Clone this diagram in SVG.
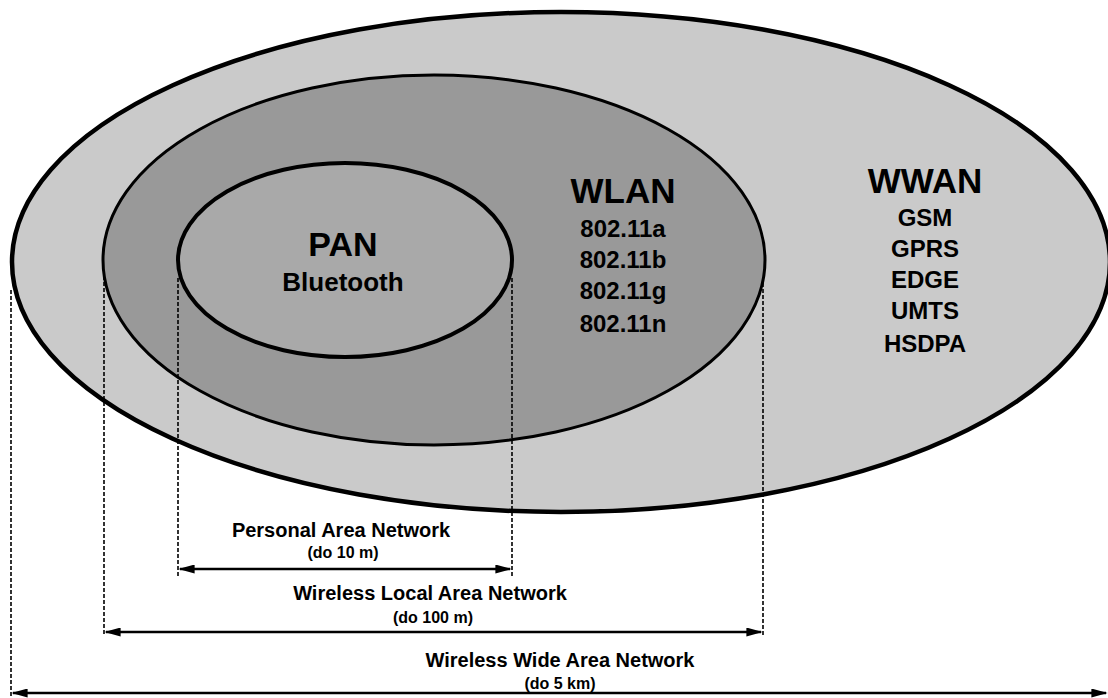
<svg xmlns="http://www.w3.org/2000/svg" width="1108" height="698" viewBox="0 0 1108 698">
<defs>
<style>
text{font-family:"Liberation Sans",Arial,sans-serif;font-weight:bold;fill:#000;text-anchor:middle}
.dash{stroke:#000;stroke-width:1.6;stroke-dasharray:4,2;fill:none}
.arr{stroke:#000;stroke-width:2.5;fill:none;marker-start:url(#ah);marker-end:url(#ah)}
.big{font-size:35px}
.mid{font-size:24px}
.lab{font-size:20px}
.sub{font-size:16px}
</style>
<marker id="ah" viewBox="0 0 10 10" refX="9" refY="5" markerWidth="6.5" markerHeight="3.6" orient="auto-start-reverse" markerUnits="strokeWidth" preserveAspectRatio="none">
<path d="M0,0 L10,5 L0,10 Z" fill="#000"/>
</marker>
</defs>
<rect width="1108" height="698" fill="#fff"/>
<g id="wwan">
<ellipse cx="561" cy="262" rx="549" ry="250" fill="#cacaca" stroke="#000" stroke-width="4.5"/>
<text class="big" x="925" y="193">WWAN</text>
<text class="mid" x="925" y="226">GSM</text>
<text class="mid" x="925" y="257">GPRS</text>
<text class="mid" x="925" y="288">EDGE</text>
<text class="mid" x="925" y="319">UMTS</text>
<text class="mid" x="925" y="352">HSDPA</text>
</g>
<g id="wlan">
<ellipse cx="434" cy="260" rx="331" ry="185" fill="#999999" stroke="#000" stroke-width="3"/>
<text class="big" x="623" y="203">WLAN</text>
<text class="mid" x="623" y="237">802.11a</text>
<text class="mid" x="623" y="268">802.11b</text>
<text class="mid" x="623" y="299">802.11g</text>
<text class="mid" x="623" y="332">802.11n</text>
</g>
<g id="pan">
<ellipse cx="345" cy="260" rx="167" ry="97" fill="#a9a9a9" stroke="#000" stroke-width="4"/>
<text style="font-size:34px" x="343" y="256">PAN</text>
<text style="font-size:26px" x="343" y="291">Bluetooth</text>
</g>
<g id="connectors">
<line class="dash" x1="11" y1="290" x2="11" y2="698"/>
<line class="dash" x1="104" y1="270" x2="104" y2="636"/>
<line class="dash" x1="178" y1="278" x2="178" y2="576"/>
<line class="dash" x1="512" y1="278" x2="512" y2="576"/>
<line class="dash" x1="763" y1="277" x2="763" y2="636"/>
<line class="arr" x1="180" y1="569" x2="510" y2="569"/>
<line class="arr" x1="106" y1="632" x2="761" y2="632"/>
<line class="arr" x1="13" y1="693" x2="1106" y2="693"/>
</g>
<g id="labels">
<text class="lab" x="341" y="537">Personal Area Network</text>
<text class="sub" x="343" y="558">(do 10 m)</text>
<text class="lab" x="430" y="600">Wireless Local Area Network</text>
<text class="sub" x="433" y="623">(do 100 m)</text>
<text class="lab" x="560" y="667">Wireless Wide Area Network</text>
<text class="sub" x="560" y="689">(do 5 km)</text>
</g>
</svg>
